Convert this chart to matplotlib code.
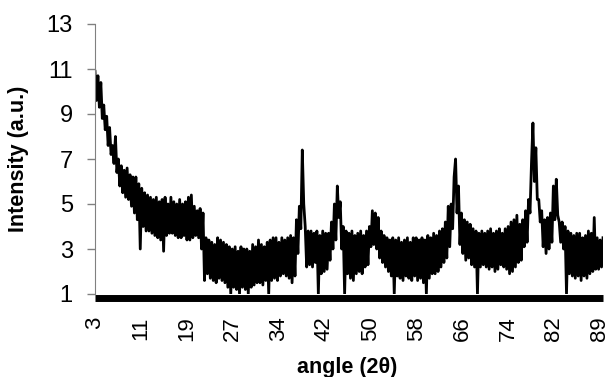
import numpy as np
import matplotlib
matplotlib.use('Agg')
import matplotlib.pyplot as plt

plt.rcParams['font.family'] = ['Liberation Sans', 'DejaVu Sans']

# intensity, one row per degree (3.00, 3.25, 3.50, 3.75 ...)
intensity = [
    10.9, 9.6, 10.7, 9.3,
    10.4, 8.8, 9.4, 8.3,
    8.9, 7.6, 8.4, 7.2,
    7.6, 6.8, 8.0, 6.4,
    7.0, 5.8, 6.7, 5.5,
    6.5, 5.3, 6.6, 5.2,
    6.3, 4.9, 6.2, 4.6,
    6.2, 4.3, 5.9, 3.0,
    5.7, 4.0, 5.5, 3.8,
    5.4, 3.8, 5.3, 3.7,
    5.2, 3.6, 5.3, 3.5,
    5.1, 3.4, 5.2, 2.9,
    5.3, 3.6, 5.0, 3.7,
    5.3, 3.7, 5.1, 3.6,
    5.0, 3.5, 5.2, 3.5,
    5.0, 3.6, 5.1, 3.4,
    5.3, 3.4, 5.4, 3.5,
    4.9, 3.6, 4.7, 3.5,
    4.8, 3.0, 4.6, 1.6,
    3.5, 1.9, 3.4, 1.7,
    3.3, 1.6, 3.2, 1.5,
    3.5, 1.7, 3.4, 1.6,
    3.3, 1.5, 3.2, 1.3,
    3.1, 1.0, 3.0, 1.3,
    3.1, 1.2, 2.9, 1.0,
    3.1, 1.3, 3.0, 1.2,
    3.0, 1.0, 2.9, 1.3,
    3.2, 1.4, 3.1, 1.5,
    3.4, 1.5, 3.2, 1.4,
    3.1, 1.6, 3.3, 1.0,
    3.4, 1.6, 3.5, 1.7,
    3.5, 1.6, 3.3, 1.8,
    3.5, 1.9, 3.4, 1.8,
    3.5, 1.7, 3.6, 1.5,
    3.5, 1.8, 4.3, 2.8,
    4.9, 3.9, 7.4, 5.0,
    4.0, 2.2, 3.8, 2.3,
    3.8, 2.2, 3.7, 2.4,
    3.8, 1.0, 3.6, 1.9,
    3.8, 2.0, 3.7, 2.1,
    3.7, 2.5, 4.2, 3.0,
    5.0, 3.4, 5.8, 4.4,
    5.1, 3.0, 4.0, 1.0,
    3.8, 1.9, 3.7, 1.7,
    3.8, 1.6, 3.6, 1.9,
    3.7, 2.0, 3.8, 1.9,
    3.6, 2.2, 3.8, 2.3,
    4.0, 3.1, 4.7, 3.2,
    4.6, 3.0, 4.4, 2.6,
    3.8, 2.4, 3.6, 2.2,
    3.5, 2.0, 3.4, 1.8,
    3.5, 1.0, 3.4, 1.8,
    3.5, 1.7, 3.3, 1.6,
    3.4, 1.8, 3.5, 1.7,
    3.3, 1.6, 3.5, 1.8,
    3.5, 1.6, 3.4, 1.7,
    3.5, 1.5, 3.4, 1.0,
    3.6, 1.7, 3.5, 1.9,
    3.7, 1.9, 3.6, 2.0,
    3.8, 2.2, 3.9, 2.4,
    4.2, 2.6, 4.9, 3.1,
    5.0, 3.9, 6.2, 7.0,
    4.6, 5.8, 3.2, 4.6,
    2.8, 4.3, 2.5, 4.2,
    2.6, 4.1, 2.3, 3.9,
    2.2, 3.8, 1.0, 3.7,
    2.2, 3.8, 2.3, 3.7,
    2.2, 3.8, 2.1, 3.9,
    2.2, 3.7, 2.0, 3.8,
    2.1, 3.9, 2.3, 3.7,
    2.2, 3.9, 2.1, 4.0,
    1.9, 4.2, 2.0, 4.3,
    2.2, 4.5, 2.4, 4.1,
    2.5, 4.3, 3.1, 4.7,
    3.3, 5.2, 4.6, 6.8,
    8.6, 6.0, 7.5, 5.2,
    5.2, 4.2, 4.7, 3.1,
    4.3, 2.8, 4.4, 3.0,
    4.6, 3.3, 5.8, 4.3,
    6.1, 4.5, 4.2, 3.3,
    4.2, 3.0, 4.0, 1.0,
    3.8, 1.9, 3.7, 1.8,
    3.6, 1.7, 3.7, 1.8,
    3.7, 1.6, 3.5, 1.8,
    3.6, 1.7, 3.8, 1.9,
    3.7, 2.0, 4.4, 2.1,
    3.5, 2.1, 3.4, 2.2,
    3.5,
]
angle = 3 + 0.25 * np.arange(len(intensity))

x_tick_labels = ['3', '11', '19', '27', '34', '42', '50', '58', '66', '74', '82', '89']
y_ticks = [1, 3, 5, 7, 9, 11, 13]

fig = plt.figure(figsize=(6.09, 3.77), dpi=100)
ax = fig.add_axes([95 / 609, 83 / 377, 508 / 609, 270 / 377])

ax.plot(angle, intensity, color='black', lw=2.0)

ax.set_xlim(3, 90)
ax.set_ylim(1, 13)

ax.set_xticks(3 + 7.86 * np.arange(len(x_tick_labels)))
ax.set_xticklabels(x_tick_labels)
ax.set_yticks(y_ticks)

ax.spines['top'].set_visible(False)
ax.spines['right'].set_visible(False)
ax.spines['left'].set_color('#808080')
ax.spines['bottom'].set_linewidth(5.0)
ax.spines['bottom'].set_position(('outward', 3.2))
ax.spines['bottom'].set_capstyle('butt')

ax.tick_params(axis='x', length=0, pad=13, labelsize=16, labelrotation=90)
ax.tick_params(axis='y', length=6, width=1, color='#808080', pad=10, labelsize=17)

ax.set_xlabel('angle (2θ)', fontsize=15.5, fontweight='bold')
ax.set_ylabel('Intensity (a.u.)', fontsize=15.5, fontweight='bold')
ax.xaxis.set_label_coords(0.496, -0.233)
ax.yaxis.set_label_coords(-0.13, 0.5)

fig.savefig('out.png', dpi=100)
